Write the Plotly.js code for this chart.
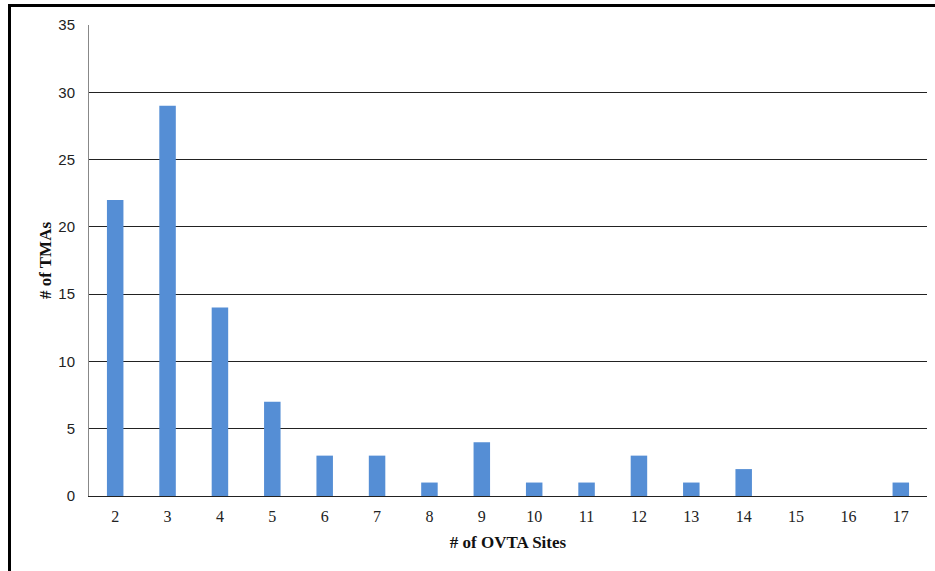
<!DOCTYPE html>
<html><head><meta charset="utf-8">
<script src="https://cdn.plot.ly/plotly-3.0.1.min.js"></script>
<style>
html,body{margin:0;padding:0;background:#fff;}
#wrap{position:relative;width:935px;height:571px;}
#chart{position:absolute;left:0;top:0;width:935px;height:571px;}
.bl{position:absolute;left:8px;top:4px;width:3px;height:567px;background:#000;z-index:5;}
.bt{position:absolute;left:8px;top:4px;width:927px;height:3px;background:#000;z-index:5;}
</style></head>
<body>
<div id="wrap"><div id="chart"></div><div class="bl"></div><div class="bt"></div></div>
<script>
const categories = ["2","3","4","5","6","7","8","9","10","11","12","13","14","15","16","17"];
const tmaCounts = [22,29,14,7,3,3,1,4,1,1,3,1,2,0,0,1];
const yTicks = [0,5,10,15,20,25,30,35];

Plotly.newPlot('chart', [{
  type: 'bar', x: categories, y: tmaCounts,
  marker: {color: '#558ED5', line: {width: 0}},
  hoverinfo: 'none'
}], {
  width: 935, height: 571,
  margin: {l: 89, r: 8, t: 25, b: 75},
  paper_bgcolor: '#fff', plot_bgcolor: '#fff',
  bargap: 0.685,
  showlegend: false,
  xaxis: {
    type: 'category', showgrid: false,
    showline: true, linecolor: '#222', linewidth: 1,
    ticks: '', ticklabelstandoff: 6,
    tickfont: {family: 'Liberation Serif, DejaVu Serif, serif', size: 16, color: '#222'},
    title: {text: '# of OVTA Sites', font: {family: 'Liberation Serif, DejaVu Serif, serif', size: 17, color: '#111', weight: 'bold'}, standoff: 11}
  },
  yaxis: {
    range: [0, 35], tickvals: yTicks, showgrid: true, gridcolor: '#222', gridwidth: 1,
    showline: true, linecolor: '#888', linewidth: 1, zeroline: false,
    ticks: '', ticklabelstandoff: 10,
    tickfont: {family: 'Liberation Sans, Arial, sans-serif', size: 15, color: '#222'},
    title: {text: '# of TMAs', font: {family: 'Liberation Serif, DejaVu Serif, serif', size: 17, color: '#111', weight: 'bold'}, standoff: 2}
  }
}, {displayModeBar: false, staticPlot: true});
</script>
</body></html>
